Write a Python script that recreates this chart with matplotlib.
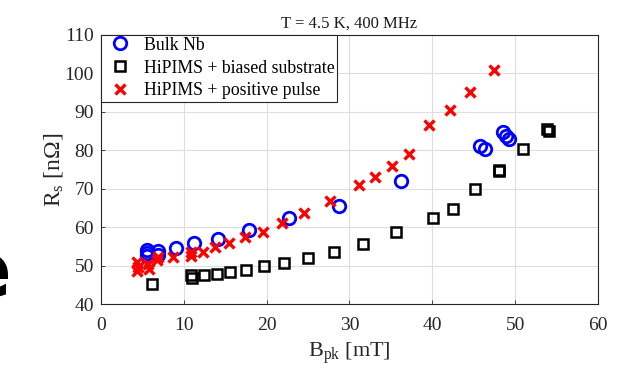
import matplotlib
matplotlib.use('Agg')
import matplotlib.pyplot as plt

plt.rcParams['font.family'] = 'Liberation Serif'
plt.rcParams['mathtext.fontset'] = 'custom'
plt.rcParams['mathtext.rm'] = 'Liberation Serif'
plt.rcParams['mathtext.it'] = 'Liberation Serif'

# Bulk Nb
bulk_b = [5.5, 5.6, 5.5, 6.9, 6.9, 9.0, 11.2, 14.1, 17.9, 22.7, 28.7, 36.2,
          45.8, 46.3, 48.5, 48.9, 49.2]
bulk_rs = [54.2, 53.3, 52.5, 53.8, 52.8, 54.7, 56.0, 57.1, 59.3, 62.3, 65.6, 72.0,
           81.1, 80.2, 84.7, 83.6, 82.8]

# HiPIMS + biased substrate
bias_b = [6.1, 10.9, 11.0, 12.4, 14.0, 15.6, 17.5, 19.7, 22.1, 25.0, 28.1, 31.6,
          35.6, 40.1, 42.5, 45.2, 48.0, 48.1, 50.9, 53.9, 54.1]
bias_rs = [45.4, 47.6, 46.9, 47.6, 47.8, 48.3, 48.9, 49.9, 50.8, 52.1, 53.6, 55.8,
           58.8, 62.4, 64.7, 69.9, 74.5, 75.0, 80.4, 85.6, 85.0]

# HiPIMS + positive pulse
pos_b = [4.4, 4.5, 4.4, 5.7, 5.8, 6.8, 6.9, 8.7, 10.9, 10.9, 12.3, 13.8, 15.4,
         17.4, 19.5, 21.9, 24.5, 27.7, 31.2, 33.1, 35.1, 37.2, 39.6, 42.1, 44.6, 47.4]
pos_rs = [51.0, 49.8, 48.8, 50.5, 49.3, 51.6, 52.3, 52.4, 53.7, 52.6, 53.6, 55.0, 56.0,
          57.4, 58.8, 61.2, 63.6, 66.9, 70.9, 73.1, 75.8, 78.9, 86.5, 90.5, 95.1, 100.8]

fig = plt.figure(figsize=(6.21, 3.69), dpi=100)
ax = fig.add_axes([0.1626, 0.1748, 0.8004, 0.7317])

ax.plot(bulk_b, bulk_rs, 'o', ms=9, mfc='none', mec='#0000ff', mew=2.0,
        label='Bulk Nb', zorder=3)
ax.plot(bias_b, bias_rs, 's', ms=6.5, mfc='none', mec='black', mew=1.8,
        label='HiPIMS + biased substrate', zorder=3)
ax.plot(pos_b, pos_rs, 'x', ms=6.5, mec='#ff0000', mew=2.4,
        label='HiPIMS + positive pulse', zorder=3)

ax.set_xlim(0, 60)
ax.set_ylim(40, 110)
ax.set_xticks(range(0, 61, 10))
ax.set_yticks(range(40, 111, 10))
ax.grid(True, color='#dedede', lw=0.8)
ax.set_axisbelow(True)
ax.tick_params(direction='in', length=3, labelsize=14, colors='#262626', width=0.6)
ax.tick_params(axis='x', pad=9)
ax.tick_params(axis='y', pad=5)
for s in ax.spines.values():
    s.set_color('#262626')
    s.set_linewidth(0.8)

ax.set_title('T = 4.5 K, 400 MHz', fontsize=12, color='#1a1a1a', pad=5)
ax.set_xlabel(r'B$_{\mathrm{pk}}$ [mT]', fontsize=16, color='#262626', labelpad=5)
ax.set_ylabel(r'R$_{\mathrm{s}}$ [n$\Omega$]', fontsize=17, color='#262626', labelpad=0)

leg = ax.legend(loc='upper left', borderaxespad=0, fancybox=False, fontsize=12.8,
                handletextpad=0.4, borderpad=0.12, labelspacing=0.33,
                handlelength=1.9, framealpha=1)
leg.get_frame().set_edgecolor('#262626')
leg.get_frame().set_linewidth(0.8)

# clipped slide letter at the left edge
fig.text(0.018, 0.195, 'e', fontsize=56, fontweight='bold', family='DejaVu Sans',
         ha='right', va='baseline', color='black')

fig.savefig('out.png', dpi=100)
